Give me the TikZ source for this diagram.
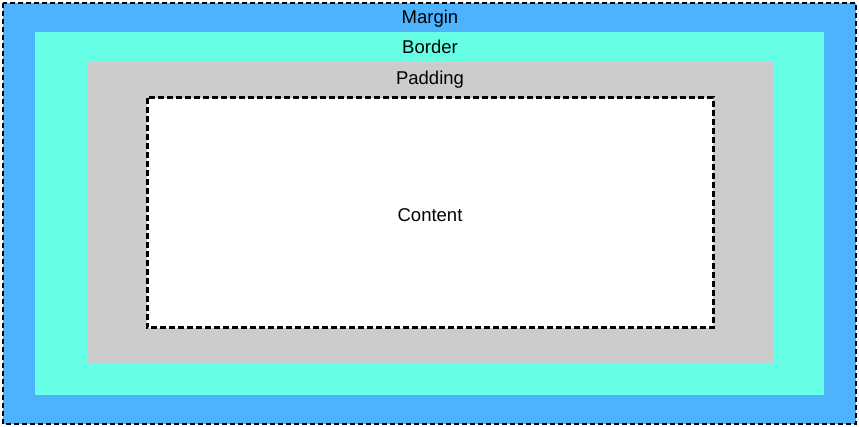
\documentclass[tikz,border=0pt]{standalone}
\usepackage{fontspec}
\setmainfont{Liberation Sans}
\usetikzlibrary{positioning}
\definecolor{marginblue}{HTML}{4DB3FF}
\definecolor{borderteal}{HTML}{66FFE6}
\definecolor{paddinggray}{HTML}{CCCCCC}

\begin{document}
\begin{tikzpicture}[
    x=1pt, y=-1pt,
    every node/.style={font=\fontsize{18.5}{21}\selectfont, text=black},
    edge/.style={draw=black, line width=2.6pt, dash pattern=on 5pt off 3pt}
  ]

  % Bounding box
  \useasboundingbox[fill=white] (0,0) rectangle (859,427);

  % Layers, outside in
  \fill[marginblue] (3,3) rectangle (856,424);
  \draw[edge] (3,3) rectangle (856,424);
  \fill[borderteal] (35,32) rectangle (824,395);
  \fill[paddinggray] (87,62) rectangle (773,364);
  \fill[white] (147,98) rectangle (713,328);
  \draw[edge, line width=3pt, dash pattern=on 6pt off 3pt] (147,98) rectangle (713,328);

  % Labels
  \node (margin) at (430,19) {Margin};
  \node (border) at (430,47) {Border};
  \node (padding) at (430,80) {Padding};
  \node (content) at (430,215) {Content};

\end{tikzpicture}
\end{document}
